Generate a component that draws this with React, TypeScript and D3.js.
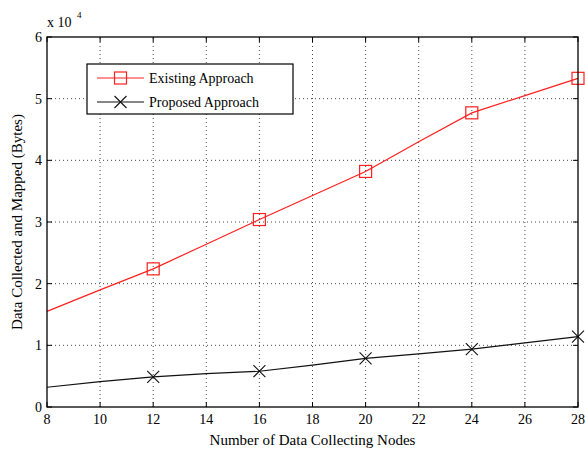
import React from "react";
import * as d3 from "d3";

const nodes = [8, 10, 12, 14, 16, 18, 20, 22, 24, 26, 28];
const existing = [1.55, 1.9, 2.24, 2.64, 3.04, 3.43, 3.82, 4.3, 4.77, 5.05, 5.33];
const proposed = [0.32, 0.41, 0.49, 0.54, 0.58, 0.68, 0.79, 0.86, 0.94, 1.04, 1.14];
const markerNodes = [12, 16, 20, 24, 28];
const xTicks = [8, 10, 12, 14, 16, 18, 20, 22, 24, 26, 28];
const yTicks = [0, 1, 2, 3, 4, 5, 6];
const seriesNames = ["Existing Approach", "Proposed Approach"];

const W = 585, H = 453;
const m = { left: 47, right: 7, top: 37, bottom: 46 };
const FONT = "'Liberation Serif', 'Times New Roman', serif";

export default function App() {
  const x = d3.scaleLinear().domain([8, 28]).range([m.left, W - m.right]);
  const y = d3.scaleLinear().domain([0, 6]).range([H - m.bottom, m.top]);
  const line = d3.line<number>().x((_, i) => x(nodes[i])).y((d) => y(d));
  const x0 = x(8), x1 = x(28), y0 = y(0), y1 = y(6);
  const tl = 5;
  const idx = (n: number) => nodes.indexOf(n);
  return (
    <svg width={W} height={H} style={{ position: "absolute", left: 0, top: 0, background: "#fff" }} fontFamily={FONT}>
      {/* grid */}
      {xTicks.slice(1, -1).map((t) => (
        <line key={"gx" + t} x1={x(t)} x2={x(t)} y1={y0} y2={y1} stroke="#000" strokeWidth={1} strokeDasharray="1,3" opacity={0.7} />
      ))}
      {yTicks.slice(1, -1).map((t) => (
        <line key={"gy" + t} x1={x0} x2={x1} y1={y(t)} y2={y(t)} stroke="#000" strokeWidth={1} strokeDasharray="1,3" opacity={0.7} />
      ))}
      {/* ticks */}
      {xTicks.map((t) => (
        <g key={"tx" + t}>
          <line x1={x(t)} x2={x(t)} y1={y0} y2={y0 - tl} stroke="#000" />
          <line x1={x(t)} x2={x(t)} y1={y1} y2={y1 + tl} stroke="#000" />
          <text x={x(t)} y={y0 + 17} textAnchor="middle" fontSize={14}>{t}</text>
        </g>
      ))}
      {yTicks.map((t) => (
        <g key={"ty" + t}>
          <line x1={x0} x2={x0 + tl} y1={y(t)} y2={y(t)} stroke="#000" />
          <line x1={x1} x2={x1 - tl} y1={y(t)} y2={y(t)} stroke="#000" />
          <text x={x0 - 5} y={y(t) + 5} textAnchor="end" fontSize={14}>{t}</text>
        </g>
      ))}
      {/* series */}
      <path d={line(existing) || ""} fill="none" stroke="#ff2020" strokeWidth={1.2} />
      <path d={line(proposed) || ""} fill="none" stroke="#111" strokeWidth={1.2} />
      {markerNodes.map((n) => (
        <rect key={"mE" + n} x={x(n) - 6} y={y(existing[idx(n)]) - 6} width={12} height={12} fill="none" stroke="#ff2020" strokeWidth={1.2} />
      ))}
      {markerNodes.map((n) => {
        const cx = x(n), cy = y(proposed[idx(n)]);
        return (
          <path key={"mP" + n} d={`M${cx - 6},${cy - 6}L${cx + 6},${cy + 6}M${cx - 6},${cy + 6}L${cx + 6},${cy - 6}`} stroke="#111" strokeWidth={1.1} />
        );
      })}
      {/* frame */}
      <rect x={x0} y={y1} width={x1 - x0} height={y0 - y1} fill="none" stroke="#000" strokeWidth={1.3} />
      {/* exponent */}
      <text x={x0} y={y1 - 10} fontSize={14}>x 10</text>
      <text x={x0 + 30} y={y1 - 19} fontSize={9}>4</text>
      {/* legend */}
      <rect x={87} y={64} width={206} height={50} fill="#fff" stroke="#000" strokeWidth={1.2} />
      <line x1={97} x2={144} y1={78} y2={78} stroke="#ff2020" strokeWidth={1.2} />
      <rect x={114.5} y={72} width={12} height={12} fill="none" stroke="#ff2020" strokeWidth={1.2} />
      <text x={149} y={83} fontSize={14}>{seriesNames[0]}</text>
      <line x1={97} x2={144} y1={102} y2={102} stroke="#111" strokeWidth={1.2} />
      <path d={`M114.5,96L126.5,108M114.5,108L126.5,96`} stroke="#111" strokeWidth={1.1} />
      <text x={149} y={107} fontSize={14}>{seriesNames[1]}</text>
      {/* axis labels */}
      <text x={(x0 + x1) / 2} y={H - 8} textAnchor="middle" fontSize={15}>Number of Data Collecting Nodes</text>
      <text transform={`translate(22,${(y0 + y1) / 2}) rotate(-90)`} textAnchor="middle" fontSize={15}>Data Collected and Mapped (Bytes)</text>
    </svg>
  );
}
